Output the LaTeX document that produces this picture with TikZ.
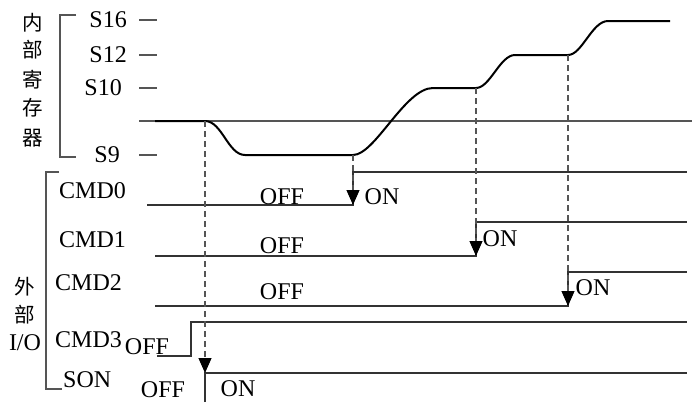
\documentclass[tikz,border=0pt]{standalone}
\usepackage{fontspec}
\setmainfont{Liberation Serif}
\newfontfamily\cjk{Noto Sans CJK SC}
\usetikzlibrary{arrows.meta}
\definecolor{ln}{RGB}{85,85,85}
\tikzset{
  lbl/.style={inner sep=0pt, text height=15pt, text depth=0pt, font=\fontsize{24}{27}\selectfont},
  zh/.style={inner sep=0pt, font=\cjk\fontsize{20.5}{22}\selectfont},
  grid/.style={draw=ln, line width=1.1pt},
  sig/.style={draw=ln!60!black, line width=1.2pt},
  curve/.style={draw=black, line width=2pt, line join=round},
  dsh/.style={draw=ln, line width=1.1pt, dash pattern=on 6pt off 4pt},
  arr/.style={-{Triangle[width=13pt,length=15pt,black]}},
}
\begin{document}
\begin{tikzpicture}[x=1pt,y=-1pt]
\useasboundingbox (0,0) rectangle (692,402);
% upper bracket and labels
\draw[grid] (76,15) -- (60,15) -- (60,157) -- (76,157);
\foreach \c/\y [count=\i] in {内/23,部/50,寄/80,存/108,器/138}
  \node[zh] (z\i) at (33,\y) {\c};
\node[lbl, anchor=east] (s16) at (127,20) {S16};
\node[lbl, anchor=east] (s12) at (127,55) {S12};
\node[lbl, anchor=east] (s10) at (122,88) {S10};
\node[lbl, anchor=east] (s9) at (120,155) {S9};
\foreach \y in {20,55,88,155} \draw[grid] (139,\y) -- (157,\y);
\draw[grid] (139,121) -- (692,121);
% register curve
\coordinate (a0) at (205,121);
\coordinate (a1) at (353,155);
\coordinate (a2) at (476,88);
\coordinate (a3) at (568,55);
\draw[curve] (155,121) -- (a0) .. controls (222,121) and (228,155) .. (245,155)
  -- (a1) .. controls (375,155) and (405,88) .. (433,88)
  -- (a2) .. controls (490,88) and (500,55) .. (515,55)
  -- (a3) .. controls (582,55) and (592,21) .. (608,21) -- (670,21);
% lower bracket and labels
\draw[grid] (59,172) -- (46,172) -- (46,389) -- (62,389);
\node[zh] (w1) at (25,287) {外};
\node[zh] (w2) at (25,315) {部};
\node[lbl] (io) at (25,343) {I/O};
\node[lbl, anchor=west] (c0) at (59,191) {CMD0};
\node[lbl, anchor=west] (c1) at (59,240) {CMD1};
\node[lbl, anchor=west] (c2) at (55,283) {CMD2};
\node[lbl, anchor=west] (c3) at (55,340) {CMD3};
\node[lbl, anchor=west] (son) at (63,380) {SON};
% signals
\coordinate (b0) at (353,205);
\coordinate (b1) at (476,256);
\coordinate (b2) at (568,306);
\coordinate (b4) at (205,373);
\draw[sig] (147,205) -- (b0) -- (353,172) -- (687,172);
\draw[sig] (155,256) -- (b1) -- (476,222) -- (687,222);
\draw[sig] (155,306) -- (b2) -- (568,272) -- (687,272);
\draw[sig] (157,356) -- (191,356) -- (191,322) -- (687,322);
\draw[sig] (205,402) -- (b4) -- (687,373);
% dashed markers
\draw[dsh, arr] (a0) -- (b4);
\draw[dsh, arr] (a1) -- (b0);
\draw[dsh, arr] (a2) -- (b1);
\draw[dsh, arr] (a3) -- (b2);
% state labels
\node[lbl] (off0) at (282,197) {OFF};
\node[lbl] (on0) at (382,197) {ON};
\node[lbl] (off1) at (282,246) {OFF};
\node[lbl] (on1) at (500,239) {ON};
\node[lbl] (off2) at (282,292) {OFF};
\node[lbl] (on2) at (593,288) {ON};
\node[lbl] (off3) at (147,347) {OFF};
\node[lbl] (off4) at (163,390) {OFF};
\node[lbl] (on4) at (238,389) {ON};
\end{tikzpicture}
\end{document}
